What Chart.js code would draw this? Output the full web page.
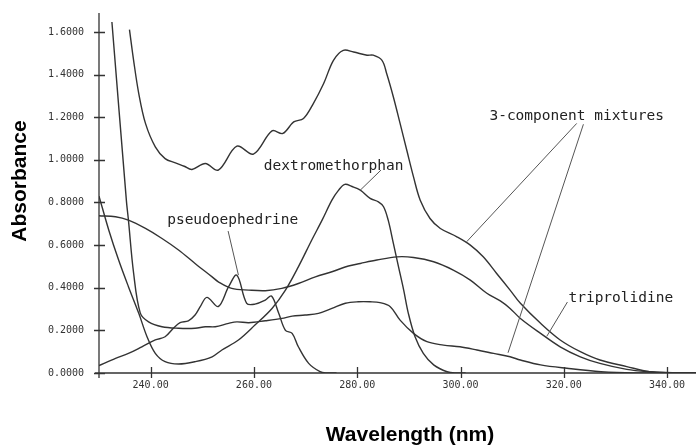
<!DOCTYPE html>
<html>
<head>
<meta charset="utf-8">
<script src="https://cdn.jsdelivr.net/npm/chart.js@4.4.1/dist/chart.umd.min.js"></script>
<style>
  html, body { margin: 0; padding: 0; background: #fff; }
  #wrap { width: 696px; height: 448px; }
</style>
</head>
<body>
<div id="wrap"><canvas id="c" width="696" height="448"></canvas></div>
<script>
// Absorbance spectra (wavelength in nm)
const WL_MIX_HIGH  = [235.9, 236.7, 237.7, 239.0, 240.9, 242.8, 244.8, 246.5, 248.0, 250.6, 253.1, 256.7, 259.9, 263.5, 265.6, 267.7, 269.6, 271.5, 273.5, 275.4, 277.3, 279.3, 281.9, 283.1, 284.8, 285.7, 287.0, 288.3, 289.6, 290.9, 292.2, 294.1, 296.1, 299.3, 301.9, 304.4, 307.0, 309.6, 311.6, 315.5, 319.3, 323.2, 327.0, 332.2, 336.6, 341.0, 345.6];
const ABS_MIX_HIGH = [1.611, 1.467, 1.311, 1.171, 1.061, 1.006, 0.986, 0.970, 0.955, 0.983, 0.952, 1.064, 1.027, 1.136, 1.124, 1.178, 1.194, 1.264, 1.358, 1.467, 1.514, 1.506, 1.491, 1.491, 1.467, 1.405, 1.295, 1.171, 1.045, 0.920, 0.811, 0.725, 0.678, 0.639, 0.600, 0.545, 0.467, 0.389, 0.327, 0.233, 0.155, 0.100, 0.061, 0.030, 0.006, 0.001, 0];

const WL_MIX_LOW  = [232.5, 235.3, 235.7, 236.7, 238.0, 239.6, 242.2, 245.4, 248.6, 250.6, 252.5, 255.1, 256.7, 259.0, 262.2, 265.4, 267.4, 269.9, 272.5, 275.1, 277.7, 280.2, 282.5, 284.4, 286.4, 288.3, 290.9, 293.5, 296.7, 299.9, 303.2, 306.4, 309.6, 311.6, 315.5, 320.6, 327.2, 333.7, 345.6];
const ABS_MIX_LOW = [1.647, 0.810, 0.717, 0.469, 0.281, 0.240, 0.217, 0.210, 0.210, 0.217, 0.217, 0.233, 0.240, 0.236, 0.245, 0.256, 0.267, 0.272, 0.280, 0.303, 0.327, 0.334, 0.334, 0.330, 0.311, 0.248, 0.186, 0.147, 0.131, 0.123, 0.108, 0.092, 0.076, 0.061, 0.038, 0.022, 0.006, 0, 0];

const WL_TRIPROL  = [230.0, 233.2, 235.7, 239.0, 242.2, 245.4, 248.6, 251.9, 253.1, 255.7, 259.0, 262.2, 265.4, 268.6, 271.9, 275.1, 278.3, 280.6, 283.8, 287.7, 290.9, 294.8, 298.6, 301.9, 305.1, 307.7, 309.6, 311.6, 315.5, 319.3, 323.2, 327.0, 332.2, 336.6, 341.0, 345.6];
const ABS_TRIPROL = [0.738, 0.733, 0.717, 0.678, 0.631, 0.577, 0.514, 0.451, 0.428, 0.397, 0.389, 0.386, 0.397, 0.420, 0.451, 0.475, 0.502, 0.514, 0.530, 0.545, 0.542, 0.522, 0.483, 0.436, 0.374, 0.338, 0.303, 0.256, 0.186, 0.123, 0.076, 0.045, 0.017, 0.006, 0.001, 0];

const WL_DEXTRO  = [230.0, 231.9, 233.8, 235.7, 237.7, 239.3, 240.9, 242.8, 245.4, 248.6, 251.9, 253.8, 257.0, 260.2, 263.5, 266.1, 268.6, 271.2, 273.2, 275.1, 276.4, 277.6, 279.0, 280.6, 282.5, 284.1, 285.1, 286.0, 287.0, 288.0, 289.0, 289.9, 291.2, 292.8, 294.8, 297.4, 299.3, 301.0];
const ABS_DEXTRO = [0.830, 0.670, 0.530, 0.405, 0.280, 0.170, 0.092, 0.053, 0.042, 0.053, 0.076, 0.108, 0.155, 0.225, 0.303, 0.389, 0.498, 0.624, 0.717, 0.811, 0.858, 0.885, 0.875, 0.858, 0.819, 0.803, 0.780, 0.717, 0.608, 0.498, 0.389, 0.280, 0.170, 0.092, 0.038, 0.006, 0, 0];

const WL_PSEUDO  = [230.0, 233.2, 235.7, 238.3, 240.9, 242.8, 244.4, 245.7, 247.3, 248.6, 249.6, 250.9, 253.1, 255.1, 256.7, 258.6, 260.2, 262.2, 263.4, 264.8, 266.1, 267.4, 268.6, 270.6, 272.8, 274.0, 276.0];
const ABS_PSEUDO = [0.035, 0.069, 0.092, 0.123, 0.155, 0.170, 0.210, 0.236, 0.245, 0.272, 0.311, 0.355, 0.312, 0.405, 0.459, 0.327, 0.323, 0.342, 0.361, 0.280, 0.200, 0.186, 0.123, 0.045, 0.006, 0, 0];

const X_TICKS = [240, 260, 280, 300, 320, 340];
const Y_TICKS = [0, 0.2, 0.4, 0.6, 0.8, 1.0, 1.2, 1.4, 1.6];

// labels and leader lines, in data units
const NOTES = [
  {text: '3-component mixtures', x: 305.6, y: 1.188},
  {text: 'dextromethorphan', x: 261.9, y: 0.952},
  {text: 'pseudoephedrine', x: 243.2, y: 0.701},
  {text: 'triprolidine', x: 320.9, y: 0.335},
];
const LEADERS = [
  [322.5, 1.171, 301.2, 0.616],
  [323.8, 1.167, 309.2, 0.095],
  [284.6, 0.952, 280.6, 0.858],
  [255.0, 0.666, 257.0, 0.459],
  [320.7, 0.333, 316.7, 0.172],
];

const pts = (xs, ys) => xs.map((x, i) => ({x, y: ys[i]}));
const INK = '#333';
const tickFont = {family: "'DejaVu Sans Mono', monospace", size: 10};

const series = [
  [WL_MIX_HIGH, ABS_MIX_HIGH],
  [WL_MIX_LOW, ABS_MIX_LOW],
  [WL_TRIPROL, ABS_TRIPROL],
  [WL_DEXTRO, ABS_DEXTRO],
  [WL_PSEUDO, ABS_PSEUDO],
];

const decor = {
  id: 'decor',
  afterDraw(chart) {
    const {ctx, chartArea: a, scales: {x, y}} = chart;
    ctx.save();
    ctx.strokeStyle = INK;
    ctx.lineWidth = 1.3;
    ctx.beginPath();
    ctx.moveTo(a.left, a.top); ctx.lineTo(a.left, a.bottom + 5);
    ctx.moveTo(a.left - 4, a.bottom); ctx.lineTo(a.right, a.bottom);
    Y_TICKS.forEach(v => {
      const py = Math.round(y.getPixelForValue(v)) + 0.5;
      ctx.moveTo(a.left - 5, py); ctx.lineTo(a.left + 6, py);
    });
    X_TICKS.forEach(v => {
      const px = Math.round(x.getPixelForValue(v)) + 0.5;
      ctx.moveTo(px, a.bottom - 6); ctx.lineTo(px, a.bottom + 5);
    });
    ctx.stroke();

    // leaders
    ctx.strokeStyle = '#555';
    ctx.lineWidth = 1;
    ctx.beginPath();
    LEADERS.forEach(l => {
      ctx.moveTo(x.getPixelForValue(l[0]), y.getPixelForValue(l[1]));
      ctx.lineTo(x.getPixelForValue(l[2]), y.getPixelForValue(l[3]));
    });
    ctx.stroke();

    ctx.fillStyle = '#222';
    ctx.font = "14.5px 'DejaVu Sans Mono', monospace";
    ctx.textAlign = 'left';
    ctx.textBaseline = 'alphabetic';
    NOTES.forEach(n => ctx.fillText(n.text, x.getPixelForValue(n.x), y.getPixelForValue(n.y)));

    // axis titles
    ctx.fillStyle = '#000';
    ctx.font = "bold 21px 'Liberation Sans', Arial, sans-serif";
    ctx.textAlign = 'center';
    ctx.fillText('Wavelength (nm)', 410, 441);
    ctx.translate(26, 181);
    ctx.rotate(-Math.PI / 2);
    ctx.fillText('Absorbance', 0, 0);
    ctx.restore();
  }
};

new Chart(document.getElementById('c'), {
  type: 'scatter',
  data: {
    datasets: series.map(s => ({
      data: pts(s[0], s[1]),
      showLine: true,
      borderColor: INK,
      borderWidth: 1.4,
      pointRadius: 0,
      fill: false,
      tension: 0.35,
    }))
  },
  options: {
    responsive: false,
    animation: false,
    devicePixelRatio: 1,
    layout: {padding: {top: 13, left: 0, right: 0, bottom: 0}},
    plugins: {legend: {display: false}, tooltip: {enabled: false}},
    scales: {
      x: {
        type: 'linear', min: 230, max: 345.6,
        afterBuildTicks: s => { s.ticks = X_TICKS.map(v => ({value: v})); },
        afterFit: s => { s.height = 75; s.paddingLeft = 0; s.paddingRight = 0; },
        grid: {display: false, drawTicks: false},
        border: {display: false},
        ticks: {callback: v => v.toFixed(2), font: tickFont, color: INK, padding: 6, maxRotation: 0, autoSkip: false},
      },
      y: {
        type: 'linear', min: 0, max: 1.689,
        afterBuildTicks: s => { s.ticks = Y_TICKS.map(v => ({value: v})); },
        afterFit: s => { s.width = 99; s.paddingTop = 0; s.paddingBottom = 0; },
        grid: {display: false, drawTicks: false},
        border: {display: false},
        ticks: {callback: v => v.toFixed(4), font: tickFont, color: INK, padding: 15, autoSkip: false},
      }
    }
  },
  plugins: [decor]
});
</script>
</body>
</html>
